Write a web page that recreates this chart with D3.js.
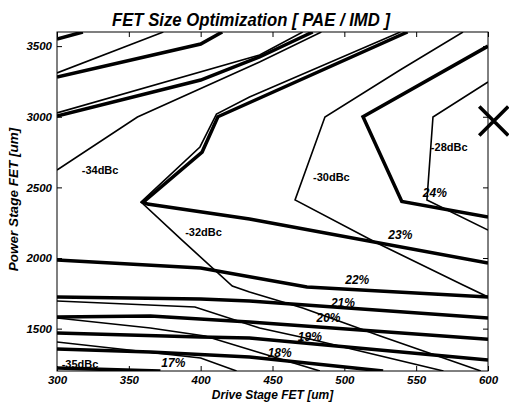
<!DOCTYPE html>
<html><head><meta charset="utf-8">
<script src="https://cdn.jsdelivr.net/npm/d3@7"></script>
<style>body{margin:0;background:#fff}svg{display:block}</style>
</head><body><svg id="c" width="509" height="405"></svg>
<script>
// ---- data (drive stage FET um, power stage FET um) ----
const xTicks = [300, 350, 400, 450, 500, 550, 600];
const yTicks = [1500, 2000, 2500, 3000, 3500];
const xDomain = [300, 600];
const yDomain = [1200, 3600];

// PAE contours (thick)
const paeTopA = [[300,3550],[318,3600]];
const paeTopB = [[300,3281],[400,3515],[415,3600]];
const paeTopC = [[300,3005],[400,3260],[441,3423],[478,3600]];
const pae23 = [[600,1965],[434,2276],[363,2382],[360,2395],[401,2750],[412,3000],[544,3600]];
const pae24 = [[600,3500],[513,3000],[540,2400],[600,2290]];
const pae22 = [[300,1986],[400,1929],[474,1795],[600,1724]];
const pae21 = [[300,1724],[400,1710],[434,1696],[600,1575]];
const pae20 = [[300,1582],[365,1589],[434,1547],[600,1425]];
const pae19 = [[300,1469],[400,1441],[434,1434],[600,1278]];
const pae18 = [[300,1356],[365,1335],[434,1299],[527,1200]];
const pae17 = [[300,1221],[372,1200]];

// IMD contours (thin)
const imdTopA = [[300,3310],[374,3600]];
const imdTopB = [[300,3027],[441,3437],[471,3600]];
const imd34 = [[300,2623],[356,2998],[441,3388],[484,3600]];
const imd32 = [[539,3600],[434,3140],[411,3019],[399.5,2786],[358.5,2396],[387,2127],[422,1802],[434,1759],[471,1646],[502,1533],[525,1448],[595,1200]];
const imd30 = [[582.6,3600],[538.8,3331],[486.5,2998],[465.7,2411],[522.7,2106],[582.6,1809],[600,1724]];
const imd28 = [[600,3246],[561.7,2998],[557.5,2411],[600,2198]];
const imdLowA = [[300,1696],[396,1653],[441,1504],[476,1427],[569,1200]];
const imdLowB = [[300,1575],[365,1504],[403,1448],[483,1200]];
const imd35 = [[300,1405],[400,1292],[425,1200]];

// contour labels
const labelText  = ["-34dBc","-32dBc","-30dBc","-28dBc","-35dBc","24%","23%","22%","21%","20%","19%","18%","17%"];
const labelDrive = [330, 402, 491, 573, 316, 563, 539, 509, 499, 489, 476, 455, 381];
const labelPower = [2623, 2184, 2573, 2786, 1250, 2460, 2163, 1844, 1681, 1575, 1441, 1327, 1257];

// optimum marker
const optDrive = [604];
const optPower = [2970];

const paeLines = [paeTopA, paeTopB, paeTopC, pae23, pae24, pae22, pae21, pae20, pae19, pae18, pae17];
const imdLines = [imdTopA, imdTopB, imd34, imd32, imd30, imd28, imdLowA, imdLowB, imd35];

// ---- drawing ----
const W = 509, H = 405;
const m = {l:57, r:21, t:32, b:34};
const svg = d3.select("#c");
const x = d3.scaleLinear().domain(xDomain).range([m.l, W - m.r]);
const y = d3.scaleLinear().domain(yDomain).range([H - m.b, m.t]);
const font = "'Liberation Sans', Arial, Helvetica, sans-serif";

svg.append("defs").append("clipPath").attr("id","pc")
  .append("rect").attr("x", m.l).attr("y", m.t)
  .attr("width", W - m.l - m.r).attr("height", H - m.t - m.b);

const line = d3.line().x(d => x(d[0])).y(d => y(d[1]));
const g = svg.append("g").attr("clip-path","url(#pc)");
g.selectAll("path.imd").data(imdLines).join("path").attr("class","imd")
  .attr("d", line).attr("fill","none").attr("stroke","#000")
  .attr("stroke-width",1.6).attr("stroke-linejoin","miter");
g.selectAll("path.pae").data(paeLines).join("path").attr("class","pae")
  .attr("d", line).attr("fill","none").attr("stroke","#000")
  .attr("stroke-width",3.5).attr("stroke-linejoin","miter");

// axes (inward ticks)
const fmt = d3.format("d");
svg.append("g").attr("transform",`translate(0,${H - m.b})`)
  .call(d3.axisBottom(x).tickValues(xTicks).tickSize(-5).tickSizeOuter(0).tickPadding(5).tickFormat(fmt));
svg.append("g").attr("transform",`translate(${m.l},0)`)
  .call(d3.axisLeft(y).tickValues(yTicks).tickSize(-5).tickSizeOuter(0).tickPadding(5).tickFormat(fmt));
svg.append("g").attr("transform",`translate(0,${m.t})`)
  .call(d3.axisTop(x).tickValues(xTicks).tickSize(-5).tickSizeOuter(0).tickFormat(""));
svg.append("g").attr("transform",`translate(${W - m.r},0)`)
  .call(d3.axisRight(y).tickValues(yTicks).tickSize(-5).tickSizeOuter(0).tickFormat(""));
svg.selectAll(".domain").remove();
svg.selectAll(".tick line").attr("stroke","#000").attr("stroke-width",1);
svg.selectAll(".tick text").attr("font-family",font).attr("font-size",11.5)
  .attr("font-weight","bold").attr("font-style","italic").attr("fill","#000");

svg.append("rect").attr("x", m.l).attr("y", m.t)
  .attr("width", W - m.l - m.r).attr("height", H - m.t - m.b)
  .attr("fill","none").attr("stroke","#000").attr("stroke-width",1);

// contour labels
svg.append("g").selectAll("text").data(labelText).join("text")
  .attr("x", (d,i) => x(labelDrive[i])).attr("y", (d,i) => y(labelPower[i]))
  .attr("dy","0.36em").attr("text-anchor","middle")
  .attr("font-family",font).attr("font-weight","bold")
  .attr("font-size", d => d.includes("%") ? 12 : 11)
  .attr("font-style", d => d.includes("%") ? "italic" : "normal")
  .attr("fill","#000").text(d => d);

// optimum X marker
const mk = svg.append("g");
optDrive.forEach((dv,i) => {
  const cx = x(dv), cy = y(optPower[i]), s = 14.5;
  mk.append("path").attr("d",`M${cx-s},${cy-s}L${cx+s},${cy+s}M${cx-s},${cy+s}L${cx+s},${cy-s}`)
    .attr("stroke","#000").attr("stroke-width",3.6).attr("fill","none");
});

// title & axis labels
svg.append("text").attr("x",251).attr("y",26).attr("text-anchor","middle")
  .attr("font-family",font).attr("font-size",18).attr("font-weight","bold").attr("font-style","italic")
  .attr("textLength",278).attr("lengthAdjust","spacingAndGlyphs")
  .text("FET Size Optimization [ PAE / IMD ]");
svg.append("text").attr("x",(m.l + W - m.r)/2).attr("y",399).attr("text-anchor","middle")
  .attr("font-family",font).attr("font-size",12).attr("font-weight","bold").attr("font-style","italic")
  .text("Drive Stage FET [um]");
svg.append("text").attr("transform",`translate(18,${(m.t + H - m.b)/2 - 2}) rotate(-90)`).attr("text-anchor","middle")
  .attr("font-family",font).attr("font-size",13.5).attr("font-weight","bold").attr("font-style","italic")
  .text("Power Stage FET [um]");
</script></body></html>
